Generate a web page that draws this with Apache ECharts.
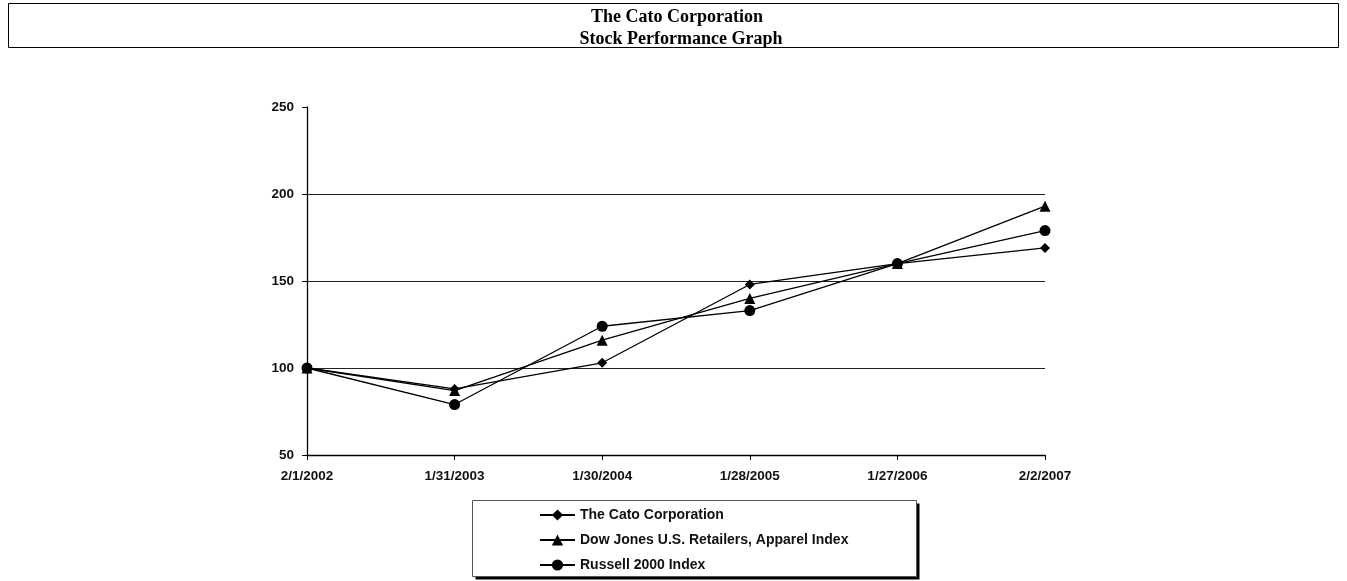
<!DOCTYPE html>
<html>
<head>
<meta charset="utf-8">
<script src="https://cdn.jsdelivr.net/npm/echarts@6/dist/echarts.min.js"></script>
<style>
html,body{margin:0;padding:0;background:#fff;}
#chart{width:1347px;height:581px;}
</style>
</head>
<body>
<div id="chart"></div>
<script>
const titleLines = ['The Cato Corporation', 'Stock Performance Graph'];
const categories = ['2/1/2002', '1/31/2003', '1/30/2004', '1/28/2005', '1/27/2006', '2/2/2007'];
const seriesNames = ['The Cato Corporation', 'Dow Jones U.S. Retailers, Apparel Index', 'Russell 2000 Index'];
const catoValues = [100, 88, 103, 148, 160, 169];
const dowJonesValues = [100, 87, 116, 140, 160, 193];
const russellValues = [100, 79, 124, 133, 160, 179];
const yTicks = {min: 50, max: 250, interval: 50};

const chart = echarts.init(document.getElementById('chart'));
const axisFont = {fontFamily: 'Liberation Sans, Arial, sans-serif', fontWeight: 'bold', fontSize: 13.5, color: '#111'};

function mk(name, data, symbol, size) {
  return {
    name: name, type: 'line', data: data, symbol: symbol, symbolSize: size,
    lineStyle: {color: '#000', width: 1.3},
    itemStyle: {color: '#000'},
    emphasis: {disabled: true},
    animation: false
  };
}

chart.setOption({
  animation: false,
  graphic: [
    {type: 'rect', shape: {x: 8.5, y: 3.5, width: 1330, height: 44}, style: {fill: '#fff', stroke: '#000', lineWidth: 1}},
    {type: 'text', x: 677, y: 17, style: {text: titleLines[0], font: 'bold 18px "Liberation Serif", serif', fill: '#000', align: 'center', verticalAlign: 'middle'}},
    {type: 'text', x: 681, y: 39, style: {text: titleLines[1], font: 'bold 18px "Liberation Serif", serif', fill: '#000', align: 'center', verticalAlign: 'middle'}},
    {type: 'rect', shape: {x: 475.5, y: 503.5, width: 444, height: 76}, style: {fill: '#000'}},
    {type: 'rect', shape: {x: 472.5, y: 500.5, width: 444, height: 76}, style: {fill: '#fff', stroke: '#555', lineWidth: 1}}
  ],
  grid: {left: 307, right: 302, top: 107, bottom: 126},
  legend: {
    orient: 'vertical', left: 534, top: 503, itemWidth: 35, itemHeight: 14, itemGap: 11,
    textStyle: {fontFamily: 'Liberation Sans, Arial, sans-serif', fontWeight: 'bold', fontSize: 14, lineHeight: 14, color: '#111'},
    data: seriesNames, z: 10
  },
  xAxis: {
    type: 'category', data: categories, boundaryGap: false,
    axisLine: {lineStyle: {color: '#000', width: 1.3}},
    axisTick: {show: true, length: 5, lineStyle: {color: '#000'}},
    axisLabel: Object.assign({margin: 14}, axisFont)
  },
  yAxis: {
    type: 'value', min: yTicks.min, max: yTicks.max, interval: yTicks.interval,
    axisLine: {show: true, lineStyle: {color: '#000', width: 1.3}},
    axisTick: {show: true, length: 5, lineStyle: {color: '#000'}},
    axisLabel: Object.assign({margin: 13}, axisFont),
    splitLine: {show: true, lineStyle: {color: ['transparent', '#222', '#222', '#222', 'transparent'], width: 1.2}}
  },
  series: [
    mk(seriesNames[0], catoValues, 'diamond', 10),
    mk(seriesNames[1], dowJonesValues, 'triangle', 11),
    mk(seriesNames[2], russellValues, 'circle', 11)
  ]
});
</script>
</body>
</html>
